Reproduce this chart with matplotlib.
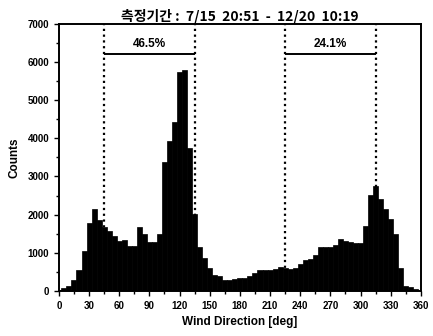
import numpy as np
import matplotlib
matplotlib.use('Agg')
import matplotlib.pyplot as plt
from matplotlib.ticker import MultipleLocator

plt.rcParams['font.family'] = ['Liberation Sans', 'Noto Sans CJK KR', 'DejaVu Sans']

# wind direction histogram, 5 deg bins (bin centres 0, 5, ..., 355)
bin_centers = np.arange(0, 360, 5)
counts = [30, 80, 120, 290, 550, 1050, 1790, 2140, 1860, 1670,
          1560, 1440, 1320, 1330, 1180, 1180, 1670, 1490, 1290, 1290,
          1490, 3380, 3940, 4420, 5750, 5790, 3740, 2020, 1160, 860,
          600, 420, 380, 290, 290, 310, 330, 350, 380, 460,
          550, 550, 550, 570, 640, 610, 570, 610, 710, 800,
          830, 940, 1160, 1160, 1160, 1200, 1360, 1320, 1290, 1270,
          1270, 1710, 2520, 2760, 2400, 2140, 1880, 1500, 600, 130,
          100, 50]

# sectors marked on the chart
sectors = [(45, 135), (225, 315)]
sector_labels = ['46.5%', '24.1%']
sector_level = 6200

fig = plt.figure(figsize=(4.33, 3.36), dpi=100)
ax = fig.add_axes([0.136, 0.134, 0.836, 0.795])

ax.bar(bin_centers, counts, width=5, align='center', color='black',
       edgecolor='black', linewidth=0.5, zorder=3)

for (a, b), lab in zip(sectors, sector_labels):
    ax.vlines([a, b], 0, 7000, colors='black', linestyles=(0, (1, 1.6)),
              linewidth=1.6, zorder=2)
    ax.hlines(sector_level, a, b, colors='black', linewidth=1.4, zorder=2)
    ax.text((a + b) / 2, sector_level + 120, lab, ha='center', va='bottom',
            fontsize=8.5, fontweight='bold')

ax.set_xlim(0, 360)
ax.set_ylim(0, 7000)
ax.xaxis.set_major_locator(MultipleLocator(30))
ax.xaxis.set_minor_locator(MultipleLocator(15))
ax.yaxis.set_major_locator(MultipleLocator(1000))
ax.yaxis.set_minor_locator(MultipleLocator(500))
ax.tick_params(which='both', direction='out', labelsize=7, width=1.0)
ax.tick_params(which='major', length=3.5)
ax.tick_params(which='minor', length=2)
for lbl in ax.get_xticklabels() + ax.get_yticklabels():
    lbl.set_fontweight('bold')
for sp in ax.spines.values():
    sp.set_linewidth(1.4)

ax.set_xlabel('Wind Direction [deg]', fontsize=8.5, fontweight='bold', labelpad=4)
ax.set_ylabel('Counts', fontsize=8.5, fontweight='bold', labelpad=5)
ax.set_title('측정기간 :  7/15  20:51  -  12/20  10:19', fontsize=10, fontweight='bold',
             family=['Noto Sans CJK KR', 'DejaVu Sans'], pad=1)

fig.savefig('out.png', dpi=100)
